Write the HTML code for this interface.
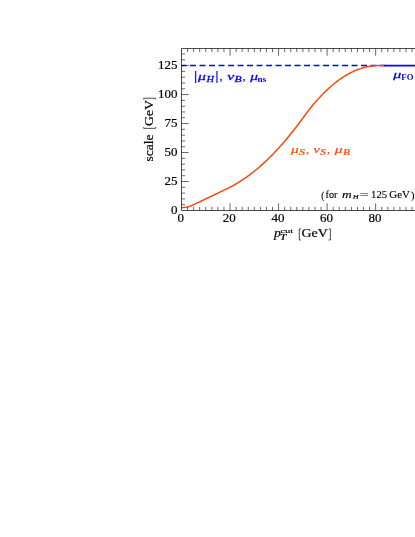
<!DOCTYPE html>
<html><head><meta charset="utf-8"><title>profile scales</title>
<style>
html,body{margin:0;padding:0;background:#fff;}
body{width:415px;height:537px;overflow:hidden;}
svg{display:block;}
text{font-family:"Liberation Serif",serif;}
</style></head><body>
<svg style="will-change:transform" width="415" height="537" viewBox="0 0 415 537">
<rect width="415" height="537" fill="#fff"/>
<path d="M181.50,65.59 H384.5" stroke="#0000ff" stroke-width="1.45" stroke-dasharray="5.9,3.6" stroke-dashoffset="0.9" fill="none"/>
<path d="M181.50,207.60 L182.71,207.57 L183.93,207.49 L185.14,207.34 L186.35,207.14 L187.57,206.88 L188.78,206.56 L189.99,206.18 L191.21,205.75 L192.42,205.25 L193.63,204.70 L194.85,204.12 L196.06,203.54 L197.28,202.96 L198.49,202.38 L199.70,201.81 L200.92,201.23 L202.13,200.65 L203.34,200.07 L204.56,199.49 L205.77,198.91 L206.98,198.33 L208.20,197.75 L209.41,197.17 L210.62,196.59 L211.84,196.01 L213.05,195.43 L214.26,194.85 L215.48,194.27 L216.69,193.69 L217.91,193.11 L219.12,192.53 L220.33,191.95 L221.55,191.37 L222.76,190.79 L223.97,190.21 L225.19,189.63 L226.40,189.05 L227.61,188.47 L228.83,187.87 L230.04,187.26 L231.25,186.63 L232.47,185.98 L233.68,185.31 L234.89,184.62 L236.11,183.92 L237.32,183.20 L238.53,182.46 L239.75,181.71 L240.96,180.93 L242.18,180.14 L243.39,179.33 L244.60,178.51 L245.82,177.66 L247.03,176.80 L248.24,175.92 L249.46,175.02 L250.67,174.11 L251.88,173.18 L253.10,172.23 L254.31,171.26 L255.52,170.28 L256.74,169.27 L257.95,168.25 L259.16,167.22 L260.38,166.16 L261.59,165.09 L262.80,164.00 L264.02,162.89 L265.23,161.76 L266.44,160.62 L267.66,159.46 L268.87,158.28 L270.09,157.08 L271.30,155.87 L272.51,154.64 L273.73,153.39 L274.94,152.12 L276.15,150.84 L277.37,149.53 L278.58,148.21 L279.79,146.88 L281.01,145.52 L282.22,144.15 L283.43,142.76 L284.65,141.35 L285.86,139.93 L287.07,138.48 L288.29,137.02 L289.50,135.54 L290.72,134.05 L291.93,132.53 L293.14,131.00 L294.36,129.45 L295.57,127.89 L296.78,126.30 L298.00,124.70 L299.21,123.08 L300.42,121.45 L301.64,119.79 L302.85,118.12 L304.06,116.45 L305.28,114.81 L306.49,113.20 L307.70,111.61 L308.92,110.05 L310.13,108.52 L311.34,107.01 L312.56,105.53 L313.77,104.08 L314.99,102.65 L316.20,101.25 L317.41,99.88 L318.63,98.54 L319.84,97.22 L321.05,95.93 L322.27,94.67 L323.48,93.43 L324.69,92.22 L325.91,91.03 L327.12,89.88 L328.33,88.75 L329.55,87.65 L330.76,86.57 L331.97,85.52 L333.19,84.50 L334.40,83.50 L335.61,82.54 L336.83,81.59 L338.04,80.68 L339.25,79.79 L340.47,78.93 L341.68,78.10 L342.90,77.29 L344.11,76.51 L345.32,75.76 L346.54,75.03 L347.75,74.33 L348.96,73.66 L350.18,73.01 L351.39,72.40 L352.60,71.80 L353.82,71.24 L355.03,70.70 L356.24,70.19 L357.46,69.71 L358.67,69.25 L359.88,68.82 L361.10,68.41 L362.31,68.04 L363.52,67.69 L364.74,67.37 L365.95,67.07 L367.17,66.80 L368.38,66.56 L369.59,66.34 L370.81,66.16 L372.02,65.99 L373.23,65.86 L374.45,65.75 L375.66,65.67 L376.87,65.62 L378.09,65.59 L379.30,65.59 L380.51,65.59 L381.73,65.59 L382.94,65.59 L384.15,65.59" fill="none" stroke="#ff4200" stroke-width="1.45" stroke-linejoin="round"/>
<path d="M383.9,65.59 H416" stroke="#0a00f0" stroke-width="1.6" fill="none"/>
<path d="M416,48.5 H181.5 V210.5 H416" fill="none" stroke="#000" stroke-width="0.7"/>
<path d="M187.57,210.5 v-3.6 M187.57,48.5 v3.6 M193.63,210.5 v-3.6 M193.63,48.5 v3.6 M199.70,210.5 v-3.6 M199.70,48.5 v3.6 M205.77,210.5 v-3.6 M205.77,48.5 v3.6 M211.84,210.5 v-3.6 M211.84,48.5 v3.6 M217.91,210.5 v-3.6 M217.91,48.5 v3.6 M223.97,210.5 v-3.6 M223.97,48.5 v3.6 M230.04,210.5 v-7.2 M230.04,48.5 v7.2 M236.11,210.5 v-3.6 M236.11,48.5 v3.6 M242.18,210.5 v-3.6 M242.18,48.5 v3.6 M248.24,210.5 v-3.6 M248.24,48.5 v3.6 M254.31,210.5 v-3.6 M254.31,48.5 v3.6 M260.38,210.5 v-3.6 M260.38,48.5 v3.6 M266.44,210.5 v-3.6 M266.44,48.5 v3.6 M272.51,210.5 v-3.6 M272.51,48.5 v3.6 M278.58,210.5 v-7.2 M278.58,48.5 v7.2 M284.65,210.5 v-3.6 M284.65,48.5 v3.6 M290.72,210.5 v-3.6 M290.72,48.5 v3.6 M296.78,210.5 v-3.6 M296.78,48.5 v3.6 M302.85,210.5 v-3.6 M302.85,48.5 v3.6 M308.92,210.5 v-3.6 M308.92,48.5 v3.6 M314.99,210.5 v-3.6 M314.99,48.5 v3.6 M321.05,210.5 v-3.6 M321.05,48.5 v3.6 M327.12,210.5 v-7.2 M327.12,48.5 v7.2 M333.19,210.5 v-3.6 M333.19,48.5 v3.6 M339.25,210.5 v-3.6 M339.25,48.5 v3.6 M345.32,210.5 v-3.6 M345.32,48.5 v3.6 M351.39,210.5 v-3.6 M351.39,48.5 v3.6 M357.46,210.5 v-3.6 M357.46,48.5 v3.6 M363.52,210.5 v-3.6 M363.52,48.5 v3.6 M369.59,210.5 v-3.6 M369.59,48.5 v3.6 M375.66,210.5 v-7.2 M375.66,48.5 v7.2 M381.73,210.5 v-3.6 M381.73,48.5 v3.6 M387.80,210.5 v-3.6 M387.80,48.5 v3.6 M393.86,210.5 v-3.6 M393.86,48.5 v3.6 M399.93,210.5 v-3.6 M399.93,48.5 v3.6 M406.00,210.5 v-3.6 M406.00,48.5 v3.6 M412.06,210.5 v-3.6 M412.06,48.5 v3.6 M181.5,204.70 h3.6 M181.5,198.91 h3.6 M181.5,193.11 h3.6 M181.5,187.31 h3.6 M181.5,181.52 h7.2 M181.5,175.72 h3.6 M181.5,169.92 h3.6 M181.5,164.13 h3.6 M181.5,158.33 h3.6 M181.5,152.53 h7.2 M181.5,146.74 h3.6 M181.5,140.94 h3.6 M181.5,135.15 h3.6 M181.5,129.35 h3.6 M181.5,123.55 h7.2 M181.5,117.76 h3.6 M181.5,111.96 h3.6 M181.5,106.16 h3.6 M181.5,100.37 h3.6 M181.5,94.57 h7.2 M181.5,88.77 h3.6 M181.5,82.98 h3.6 M181.5,77.18 h3.6 M181.5,71.38 h3.6 M181.5,65.59 h7.2 M181.5,59.79 h3.6 M181.5,53.99 h3.6" fill="none" stroke="#000" stroke-width="0.6"/>
<g fill="#000">
<text transform="translate(180.80,221.70) scale(1.1017,1)" font-size="11.8px" text-anchor="middle" stroke="#000" stroke-width="0.18">0</text>
<text transform="translate(229.34,221.70) scale(1.1017,1)" font-size="11.8px" text-anchor="middle" stroke="#000" stroke-width="0.18">20</text>
<text transform="translate(277.88,221.70) scale(1.1017,1)" font-size="11.8px" text-anchor="middle" stroke="#000" stroke-width="0.18">40</text>
<text transform="translate(326.42,221.70) scale(1.1017,1)" font-size="11.8px" text-anchor="middle" stroke="#000" stroke-width="0.18">60</text>
<text transform="translate(374.96,221.70) scale(1.1017,1)" font-size="11.8px" text-anchor="middle" stroke="#000" stroke-width="0.18">80</text>
<text transform="translate(177.60,214.30) scale(1.1017,1)" font-size="11.8px" text-anchor="end" stroke="#000" stroke-width="0.18">0</text>
<text transform="translate(177.60,185.32) scale(1.1017,1)" font-size="11.8px" text-anchor="end" stroke="#000" stroke-width="0.18">25</text>
<text transform="translate(177.60,156.34) scale(1.1017,1)" font-size="11.8px" text-anchor="end" stroke="#000" stroke-width="0.18">50</text>
<text transform="translate(177.60,127.35) scale(1.1017,1)" font-size="11.8px" text-anchor="end" stroke="#000" stroke-width="0.18">75</text>
<text transform="translate(177.60,98.37) scale(1.1017,1)" font-size="11.8px" text-anchor="end" stroke="#000" stroke-width="0.18">100</text>
<text transform="translate(177.60,69.39) scale(1.1017,1)" font-size="11.8px" text-anchor="end" stroke="#000" stroke-width="0.18">125</text>
<text transform="translate(274.05,236.65) scale(1.1629,1)" font-size="11.8px" font-style="italic" stroke="#000" stroke-width="0.15">p</text>
<text transform="translate(280.12,240.30) scale(1.5323,1)" font-size="7.3px" font-style="italic" stroke="#000" stroke-width="0.25">T</text>
<text transform="translate(280.40,232.70) scale(1.5824,1)" font-size="6.6px"  stroke="#000" stroke-width="0.12">cut</text>
<text transform="translate(301.43,236.70) scale(1.1918,1)" font-size="11.7px"  stroke="#000" stroke-width="0.18">GeV</text>
<path d="M301.0,228.95 H299.3 V240.0 H301.0 M328.7,228.95 H330.4 V240.0 H328.7" fill="none" stroke="#000" stroke-width="0.7"/>
<g transform="translate(153.05,161) rotate(-90)"><text transform="translate(-0.45,0.00) scale(1.0482,1)" font-size="12.9px"  stroke="#000" stroke-width="0.18">scale</text><text transform="translate(34.93,0.00) scale(1.0683,1)" font-size="12.9px"  stroke="#000" stroke-width="0.18">GeV</text></g>
<path d="M143.7,99.5 V98.25 H155.6 V99.5 M143.7,127.1 V128.35 H155.6 V127.1" fill="none" stroke="#000" stroke-width="0.7"/>
</g>
<g fill="#0000ff">
<path d="M195.65,71.1 V82.9 M216.95,71.1 V82.9" stroke="#0000ff" stroke-width="1.15" fill="none"/>
<text transform="translate(198.12,80.00) scale(1.3941,1)" font-size="11.3px" font-style="italic" stroke="#0000ff" stroke-width="0.28">μ</text>
<text transform="translate(206.51,81.70) scale(1.3524,1)" font-size="7.7px" font-style="italic" stroke="#0000ff" stroke-width="0.28">H</text>
<text transform="translate(219.51,80.00) scale(1.1290,1)" font-size="11.3px"  stroke="#0000ff" stroke-width="0.28">,</text>
<text transform="translate(227.18,79.90) scale(1.4195,1)" font-size="11.3px" font-style="italic" stroke="#0000ff" stroke-width="0.28">ν</text>
<text transform="translate(234.39,81.60) scale(1.5237,1)" font-size="7.7px" font-style="italic" stroke="#0000ff" stroke-width="0.28">B</text>
<text transform="translate(242.51,80.00) scale(1.1290,1)" font-size="11.3px"  stroke="#0000ff" stroke-width="0.28">,</text>
<text transform="translate(250.22,80.00) scale(1.3753,1)" font-size="11.3px" font-style="italic" stroke="#0000ff" stroke-width="0.28">μ</text>
<text transform="translate(257.55,81.60) scale(1.1911,1)" font-size="7.7px" font-weight="bold" >ns</text>
<text transform="translate(393.32,78.00) scale(1.4130,1)" font-size="11.3px" font-style="italic" stroke="#0000ff" stroke-width="0.28">μ</text>
<text transform="translate(401.35,79.90) scale(1.1291,1)" font-size="7.7px" font-weight="bold" >FO</text>
</g>
<g fill="#ff4200">
<text transform="translate(291.11,153.30) scale(1.3565,1)" font-size="11.3px" font-style="italic" stroke="#ff4200" stroke-width="0.15">μ</text>
<text transform="translate(298.96,155.00) scale(1.6313,1)" font-size="7.4px" font-style="italic" stroke="#ff4200" stroke-width="0.15">S</text>
<text transform="translate(306.01,153.30) scale(1.3430,1)" font-size="9.5px"  stroke="#ff4200" stroke-width="0.15">,</text>
<text transform="translate(313.60,153.20) scale(1.2960,1)" font-size="11.3px" font-style="italic" stroke="#ff4200" stroke-width="0.15">ν</text>
<text transform="translate(320.27,155.00) scale(1.5455,1)" font-size="7.4px" font-style="italic" stroke="#ff4200" stroke-width="0.15">S</text>
<text transform="translate(327.01,153.30) scale(1.3430,1)" font-size="9.5px"  stroke="#ff4200" stroke-width="0.15">,</text>
<text transform="translate(334.82,153.30) scale(1.3941,1)" font-size="11.3px" font-style="italic" stroke="#ff4200" stroke-width="0.15">μ</text>
<text transform="translate(342.89,155.00) scale(1.4789,1)" font-size="7.7px" font-style="italic" stroke="#ff4200" stroke-width="0.15">B</text>
</g>
<g fill="#000" stroke="#000" stroke-width="0.12">
<text transform="translate(321.19,198.60) scale(0.9072,1)" font-size="10.3px"  >(</text>
<text transform="translate(325.49,197.90) scale(1.0746,1)" font-size="9.5px"  >for</text>
<text transform="translate(342.02,197.90) scale(1.4056,1)" font-size="9.5px" font-style="italic" >m</text>
<text transform="translate(352.69,199.10) scale(1.3060,1)" font-size="6.3px" font-style="italic" >H</text>
<text transform="translate(359.81,197.90) scale(1.6740,1)" font-size="9.5px"  >=</text>
<text transform="translate(371.06,197.90) scale(1.1270,1)" font-size="9.5px"  >125</text>
<text transform="translate(389.25,197.90) scale(1.1524,1)" font-size="9.5px"  >GeV</text>
<text transform="translate(411.06,198.60) scale(1.0206,1)" font-size="10.3px"  >)</text>
</g>
</svg>
</body></html>
